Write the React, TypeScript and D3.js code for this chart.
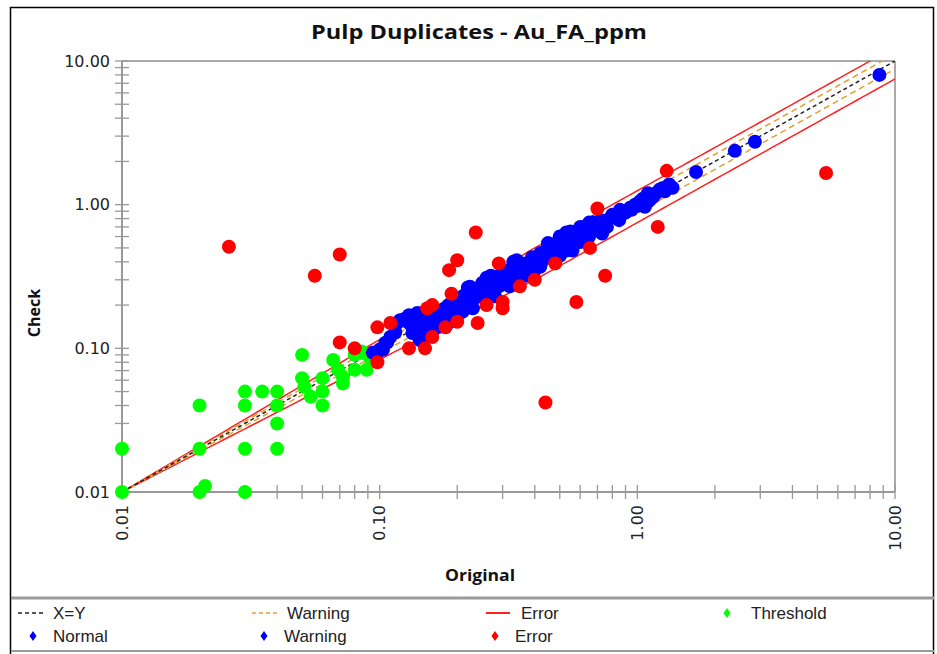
import React from "react";
import * as d3 from "d3";

const W = 937;
const H = 654;

// Tick values
const majorTicks = [0.01, 0.1, 1, 10];
const tickLabels = ["0.01", "0.10", "1.00", "10.00"];

// Tolerance limits
const DETECTION_LIMIT = 0.01;
const WARNING_PCT = 0.12;
const ERROR_PCT = 0.25;
const RAMP_DECADES = 1.6;

// Threshold (green) samples: [original, check]
const thresholdPts: [number, number][] = [
  [0.01, 0.01], [0.01, 0.02], [0.02, 0.04], [0.02, 0.02], [0.02, 0.01], [0.021, 0.011],
  [0.03, 0.05], [0.03, 0.04], [0.03, 0.02], [0.03, 0.01], [0.035, 0.05], [0.04, 0.05],
  [0.04, 0.04], [0.04, 0.03], [0.04, 0.02], [0.05, 0.09], [0.05, 0.062], [0.051, 0.054],
  [0.054, 0.046], [0.06, 0.062], [0.06, 0.05], [0.06, 0.04], [0.066, 0.083], [0.069, 0.071],
  [0.072, 0.063], [0.072, 0.057], [0.08, 0.09], [0.08, 0.071], [0.089, 0.071], [0.088, 0.092],
  [0.092, 0.085], [0.085, 0.095], [0.098, 0.095],
];

// Normal (blue) samples
const normalPts: [number, number][] = [
  [0.094, 0.093], [0.1, 0.098], [0.103, 0.098], [0.098, 0.093], [0.105, 0.109], [0.107, 0.11],
  [0.11, 0.12], [0.115, 0.13], [0.117, 0.15], [0.12, 0.157],
  [0.134, 0.165], [0.134, 0.14], [0.134, 0.128], [0.14, 0.176], [0.14, 0.15], [0.14, 0.128],
  [0.143, 0.114], [0.147, 0.114], [0.143, 0.157], [0.147, 0.134], [0.153, 0.128], [0.157, 0.15],
  [0.167, 0.165], [0.177, 0.185], [0.192, 0.194], [0.2, 0.216], [0.218, 0.243], [0.224, 0.216],
  [0.205, 0.176], [0.183, 0.165], [0.17, 0.141], [0.224, 0.268], [0.239, 0.228], [0.25, 0.285],
  [0.26, 0.31], [0.268, 0.243], [0.285, 0.3], [0.3, 0.31], [0.32, 0.35], [0.34, 0.41],
  [0.35, 0.335], [0.37, 0.37], [0.39, 0.39], [0.4, 0.35], [0.43, 0.41], [0.46, 0.485],
  [0.49, 0.54], [0.52, 0.57], [0.53, 0.64], [0.55, 0.54], [0.5, 0.6],
  [0.35, 0.35], [0.36, 0.39], [0.38, 0.39], [0.39, 0.43], [0.42, 0.43], [0.445, 0.46],
  [0.47, 0.5], [0.53, 0.48], [0.56, 0.48], [0.5, 0.57], [0.547, 0.597], [0.6, 0.7],
  [0.63, 0.66], [0.67, 0.75], [0.72, 0.78], [0.73, 0.63], [0.762, 0.7], [0.8, 0.85],
  [0.856, 0.92], [0.936, 0.95], [1.02, 1.05], [1.07, 0.966], [1.1, 1.05], [1.15, 1.13],
  [1.22, 1.27], [1.3, 1.33], [1.37, 1.31],
  [0.16, 0.17], [0.18, 0.19], [0.21, 0.2], [0.23, 0.25], [0.27, 0.27], [0.29, 0.27],
  [0.31, 0.33], [0.33, 0.31], [0.58, 0.62], [0.65, 0.6], [0.9, 0.88], [0.98, 1.0],
  [0.45, 0.52], [0.48, 0.45],
  [0.125, 0.16], [0.13, 0.15], [0.137, 0.155], [0.15, 0.16], [0.155, 0.14], [0.16, 0.155],
  [0.165, 0.145], [0.17, 0.175], [0.175, 0.16], [0.185, 0.2], [0.19, 0.18], [0.195, 0.21],
  [0.2, 0.19], [0.21, 0.23], [0.215, 0.21], [0.22, 0.2], [0.23, 0.22], [0.235, 0.26],
  [0.245, 0.24], [0.25, 0.26], [0.255, 0.23], [0.26, 0.28], [0.275, 0.29], [0.28, 0.26],
  [0.29, 0.32], [0.3, 0.28], [0.31, 0.3], [0.33, 0.36], [0.34, 0.33], [0.36, 0.36],
  [0.38, 0.36], [0.41, 0.4], [0.42, 0.46], [0.44, 0.43], [0.46, 0.44], [0.48, 0.52],
  [0.5, 0.5], [0.51, 0.55], [0.54, 0.58], [0.57, 0.56], [0.6, 0.64], [0.62, 0.7],
  [0.66, 0.68], [0.69, 0.72], [0.7, 0.66], [0.75, 0.75], [0.78, 0.8], [0.83, 0.82],
  [0.87, 0.9], [0.95, 0.92], [1.0, 0.98], [1.05, 1.1], [1.12, 1.08], [1.18, 1.2],
  [1.25, 1.3], [1.33, 1.38], [1.28, 1.24],
  [0.13, 0.17], [0.145, 0.175], [0.155, 0.18], [0.16, 0.13], [0.185, 0.15], [0.21, 0.18],
  [0.23, 0.19], [0.22, 0.265], [0.27, 0.32], [0.28, 0.23], [0.32, 0.27], [0.33, 0.4],
  [0.37, 0.32], [0.42, 0.37], [0.5, 0.44], [0.45, 0.54], [0.55, 0.65], [0.6, 0.55],
  [0.65, 0.75], [0.85, 0.78], [1.1, 1.2],
  [1.69, 1.69], [2.39, 2.37], [2.86, 2.74], [8.7, 8.0],
];

// Error (red) samples
const errorPts: [number, number][] = [
  [0.026, 0.51], [0.07, 0.45], [0.056, 0.32], [0.07, 0.11], [0.08, 0.1], [0.098, 0.14],
  [0.098, 0.08], [0.11, 0.15], [0.236, 0.64], [0.2, 0.41], [0.186, 0.35], [0.29, 0.39],
  [0.48, 0.39], [0.19, 0.24], [0.153, 0.19], [0.16, 0.2], [0.35, 0.27], [0.4, 0.3],
  [0.3, 0.21], [0.3, 0.19], [0.26, 0.2], [0.24, 0.15], [0.2, 0.153], [0.18, 0.14],
  [0.16, 0.12], [0.15, 0.1], [0.13, 0.1], [0.44, 0.042], [1.3, 1.72], [0.7, 0.94],
  [1.2, 0.7], [0.655, 0.5], [0.75, 0.32], [0.58, 0.21], [5.4, 1.66],
];

const legendRow1 = ["X=Y", "Warning", "Error", "Threshold"];
const legendRow2 = ["Normal", "Warning", "Error"];

export default function App() {
  const left = 122, right = 895, top = 61, bottom = 492;
  const x = d3.scaleLog().domain([0.01, 10]).range([left, right]);
  const y = d3.scaleLog().domain([0.01, 10]).range([bottom, top]);

  const minor: number[] = [];
  for (let d = 0.01; d < 10; d *= 10) {
    for (let k = 2; k <= 9; k++) minor.push(+(d * k).toPrecision(3));
  }
  const allTicks = [...majorTicks, ...minor];

  const xs = d3.range(0, 121).map((i) => Math.pow(10, -2 + (3 * i) / 120));
  const bandLine = (pct: number, sign: number) =>
    d3.line<number>()
      .x((v) => x(v))
      .y((v) => {
        const dec = Math.log10(v / DETECTION_LIMIT);
        const ramp = Math.min(1, dec / RAMP_DECADES);
        return y(v * Math.pow(1 + sign * pct, ramp));
      })(xs) || "";
  const diag = d3.line<number>().x((v) => x(v)).y((v) => y(v))(xs) || "";

  const font = "'Liberation Sans', Arial, sans-serif";
  const tickFont = "'DejaVu Sans', Verdana, sans-serif";
  const legendColX = [18, 252, 486, 727];
  const R = 7;

  return (
    <svg width={W} height={H} style={{ position: "absolute", left: 0, top: 0, background: "#fff" }}>
      <rect x={0} y={0} width={W} height={H} fill="#fff" />
      {/* outer frame */}
      <line x1={10.5} y1={7} x2={10.5} y2={H} stroke="#000" strokeWidth={1.5} />
      <line x1={10} y1={7.5} x2={934} y2={7.5} stroke="#000" strokeWidth={1.5} />
      <line x1={933.5} y1={7} x2={933.5} y2={H} stroke="#000" strokeWidth={1.5} />

      <text x={479} y={39} textAnchor="middle" fontFamily="'Open Sans', sans-serif" fontWeight={700} fontSize={20}
        textLength={336} lengthAdjust="spacingAndGlyphs" fill="#111">
        Pulp Duplicates - Au_FA_ppm
      </text>

      <defs>
        <clipPath id="plotClip">
          <rect x={left} y={top} width={right - left} height={bottom - top} />
        </clipPath>
      </defs>

      {/* plot frame */}
      <line x1={left} y1={top} x2={right} y2={top} stroke="#aaa" strokeWidth={2} />
      <line x1={right} y1={top} x2={right} y2={bottom} stroke="#aaa" strokeWidth={2} />

      {/* axes */}
      <line x1={left} y1={top} x2={left} y2={bottom} stroke="#999" strokeWidth={2} />
      <line x1={left} y1={bottom} x2={right} y2={bottom} stroke="#999" strokeWidth={2} />
      {allTicks.map((t, i) => (
        <g key={"t" + i}>
          <line x1={left - 7} x2={left + 7} y1={y(t)} y2={y(t)} stroke="#999" strokeWidth={1.3} />
          <line y1={bottom - 7} y2={bottom + 7} x1={x(t)} x2={x(t)} stroke="#999" strokeWidth={1.3} />
        </g>
      ))}
      {majorTicks.map((t, i) => (
        <g key={"l" + i}>
          <text x={110} y={y(t)} dy="0.36em" textAnchor="end" fontFamily={tickFont} fontSize={16} fill="#222">
            {tickLabels[i]}
          </text>
          <text transform={`translate(${x(t)},505) rotate(-90)`} dy="0.36em" textAnchor="end" fontFamily={tickFont} fontSize={16} fill="#222">
            {tickLabels[i]}
          </text>
        </g>
      ))}

      <text transform="translate(40,313) rotate(-90)" textAnchor="middle" fontFamily="'Open Sans', sans-serif" fontWeight={700} fontSize={16} fill="#111">
        Check
      </text>
      <text x={480} y={581} textAnchor="middle" fontFamily="'Open Sans', sans-serif" fontWeight={700} fontSize={16}
        textLength={70} lengthAdjust="spacingAndGlyphs" fill="#111">
        Original
      </text>

      {/* reference lines */}
      <g clipPath="url(#plotClip)" fill="none">
        <path d={bandLine(ERROR_PCT, 1)} stroke="#ff2020" strokeWidth={1.5} />
        <path d={bandLine(ERROR_PCT, -1)} stroke="#ff2020" strokeWidth={1.5} />
        <path d={bandLine(WARNING_PCT, 1)} stroke="#e0a030" strokeWidth={1.5} strokeDasharray="6,4" />
        <path d={bandLine(WARNING_PCT, -1)} stroke="#e0a030" strokeWidth={1.5} strokeDasharray="6,4" />
        <path d={diag} stroke="#222" strokeWidth={1.5} strokeDasharray="4,3" />
      </g>

      {/* points */}
      <g>
        {thresholdPts.map((p, i) => (
          <circle key={"g" + i} cx={x(p[0])} cy={y(p[1])} r={R} fill="#00ff00" />
        ))}
        {normalPts.map((p, i) => (
          <circle key={"b" + i} cx={x(p[0])} cy={y(p[1])} r={R} fill="#0000ff" />
        ))}
        {errorPts.map((p, i) => (
          <circle key={"r" + i} cx={x(p[0])} cy={y(p[1])} r={R} fill="#ff0000" />
        ))}
      </g>

      {/* legend */}
      <line x1={11} x2={934} y1={598} y2={598} stroke="#999" strokeWidth={3} />
      <line x1={11} x2={934} y1={651} y2={651} stroke="#999" strokeWidth={2} />
      {legendRow1.map((lab, i) => {
        const lx = legendColX[i];
        const ly = 613;
        let sym: React.ReactNode = null;
        if (i === 0) sym = <line x1={lx} x2={lx + 27} y1={ly} y2={ly} stroke="#222" strokeWidth={1.5} strokeDasharray="4,3" />;
        if (i === 1) sym = <line x1={lx} x2={lx + 27} y1={ly} y2={ly} stroke="#e0a030" strokeWidth={1.5} strokeDasharray="4,3" />;
        if (i === 2) sym = <line x1={lx} x2={lx + 24} y1={ly} y2={ly} stroke="#ff2020" strokeWidth={2} />;
        if (i === 3) sym = <path d={`M${lx},${ly - 5}L${lx + 3.5},${ly}L${lx},${ly + 5}L${lx - 3.5},${ly}Z`} fill="#00ff00" />;
        return (
          <g key={"lg1" + i}>
            {sym}
            <text x={i === 3 ? lx + 24 : lx + 35} y={ly} dy="0.36em" fontFamily={font} fontSize={17} fill="#222">{lab}</text>
          </g>
        );
      })}
      {legendRow2.map((lab, i) => {
        const cx = [33, 264, 495][i];
        const ly = 636;
        const col = ["#0000ff", "#0000ff", "#ff0000"][i];
        return (
          <g key={"lg2" + i}>
            <path d={`M${cx},${ly - 5}L${cx + 3.5},${ly}L${cx},${ly + 5}L${cx - 3.5},${ly}Z`} fill={col} />
            <text x={cx + 20} y={ly} dy="0.36em" fontFamily={font} fontSize={17} fill="#222">{lab}</text>
          </g>
        );
      })}
    </svg>
  );
}
